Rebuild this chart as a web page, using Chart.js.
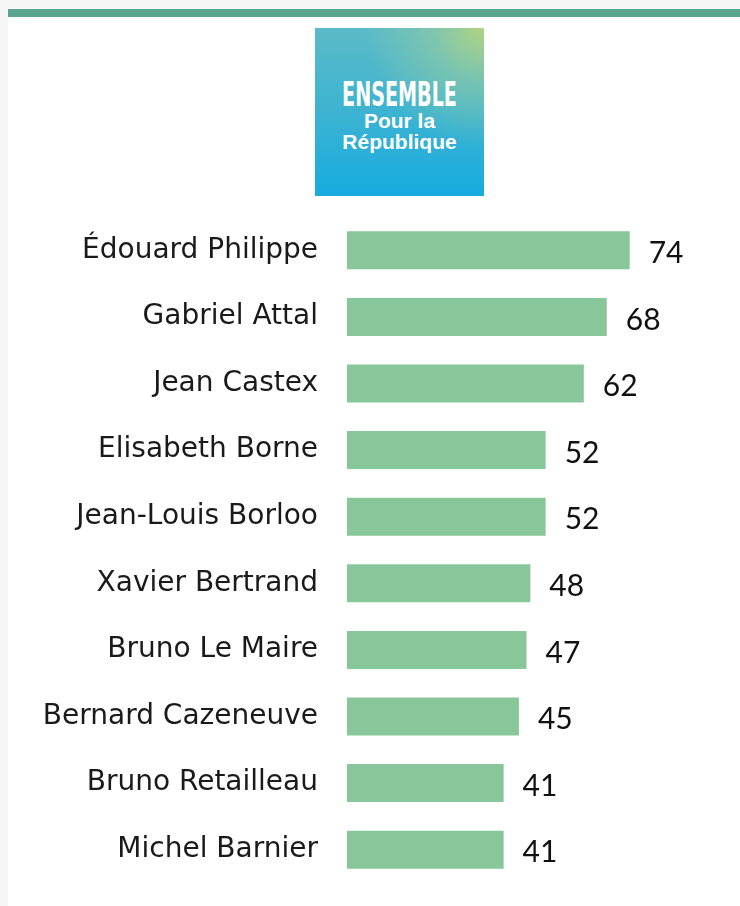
<!DOCTYPE html>
<html>
<head>
<meta charset="utf-8">
<script src="https://cdn.jsdelivr.net/npm/chart.js@4.4.1/dist/chart.umd.min.js"></script>
<style>
  html, body { margin: 0; padding: 0; }
  body { width: 740px; height: 906px; background: #f6f6f6; position: relative; overflow: hidden; }
  #panel { position: absolute; left: 8px; top: 9px; right: 0; bottom: 0; background: #fff; border-top: 8px solid #5aa590; }
  #logo {
    position: absolute; left: 315px; top: 28px; width: 169px; height: 168px;
    background:
      radial-gradient(circle at 100% 0%, rgba(180,212,125,0.95) 0%, rgba(150,205,160,0.6) 22%, rgba(120,200,200,0) 50%),
      linear-gradient(180deg, #5bbac8 0%, #40b4d0 45%, #17abe0 100%);
    color: #fff; text-align: center; font-weight: bold;
  }
  #logo .t1 { position: absolute; left: -40px; right: -40px; top: 49px; font-family: "DejaVu Sans", sans-serif; font-size: 33px; line-height: 36px; transform: scaleX(0.58); }
  #logo .t2 { position: absolute; left: 0; right: 0; top: 82px; font-family: "Liberation Sans", Arial, sans-serif; font-size: 21px; line-height: 21px; }
  #wrap { position: absolute; left: 0; top: 0; width: 740px; height: 906px; }
</style>
</head>
<body>
<div id="panel"></div>
<div id="logo"><div class="t1">ENSEMBLE</div><div class="t2">Pour la<br>République</div></div>
<div id="wrap"><canvas id="chart" width="740" height="906"></canvas></div>
<script>
const names = ['Édouard Philippe', 'Gabriel Attal', 'Jean Castex', 'Elisabeth Borne', 'Jean-Louis Borloo',
               'Xavier Bertrand', 'Bruno Le Maire', 'Bernard Cazeneuve', 'Bruno Retailleau', 'Michel Barnier'];
const scores = [74, 68, 62, 52, 52, 48, 47, 45, 41, 41];

// draw the number at the end of each bar
const valueLabels = {
    id: 'valueLabels',
    afterDatasetsDraw(chart){
        const ctx = chart.ctx;
        const meta = chart.getDatasetMeta(0);
        ctx.save();
        ctx.font = '30px Lato, sans-serif';
        ctx.fillStyle = '#111';
        ctx.textBaseline = 'middle';
        ctx.textAlign = 'left';
        meta.data.forEach(function(bar, i){
            ctx.fillText(scores[i], bar.x + 19, bar.y + 3);
        });
        ctx.restore();
    }
};

const ctx = document.getElementById('chart').getContext('2d');
var chart = new Chart(ctx, {
    type: 'bar',
    data: {
        labels: names,
        datasets: [{
            data: scores,
            backgroundColor: '#88c799',
            borderWidth: 0,
            categoryPercentage: 1,
            barPercentage: 0.57
        }]
    },
    options: {
        indexAxis: 'y',
        responsive: false,
        animation: false,
        devicePixelRatio: 1,
        layout: { padding: { top: 217, bottom: 23, right: 11, left: 0 } },
        plugins: { legend: { display: false }, tooltip: { enabled: false } },
        scales: {
            x: { display: false, min: 0, max: 100 },
            y: {
                grid: { display: false, drawTicks: false },
                border: { display: false },
                afterFit(scale){
                    scale.width = 347;
                    // tick padding would otherwise eat into the bottom of the plot
                    scale.paddingTop = 0;
                    scale.paddingBottom = 0;
                },
                ticks: {
                    padding: 29,
                    color: '#1a1a1a',
                    font: { family: '"DejaVu Sans", sans-serif', size: 28 }
                }
            }
        }
    },
    plugins: [valueLabels]
});
</script>
</body>
</html>
